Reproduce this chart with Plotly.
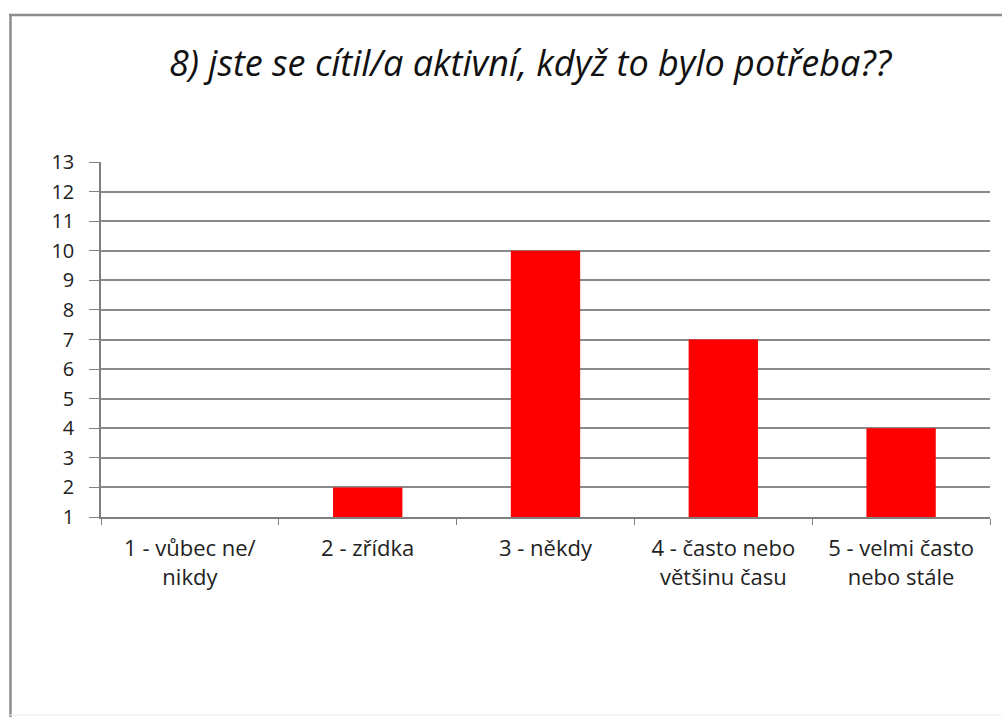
import plotly.graph_objects as go

# Survey answers for question 8
categories = [
    "1 - vůbec ne/<br>nikdy",
    "2 - zřídka",
    "3 - někdy",
    "4 - často nebo<br>většinu času",
    "5 - velmi často<br>nebo stále",
]
counts = [0, 2, 10, 7, 4]
y_ticks = list(range(1, 14))

title_text = "8) jste se cítil/a aktivní, když to bylo potřeba??"

W, H = 1002, 717
ml, mr, mt, mb = 101, 12, 162, 200
pw = W - ml - mr
ph = H - mt - mb


def px_to_paper_x(px):
    return (px - ml) / pw


def px_to_paper_y(py):
    return (H - mb - py) / ph


fig = go.Figure(
    go.Bar(
        x=categories,
        y=counts,
        marker=dict(color="#FF0000", line=dict(width=0)),
        width=0.39,
    )
)

fig.update_layout(
    width=W,
    height=H,
    margin=dict(l=ml, r=mr, t=mt, b=mb),
    paper_bgcolor="white",
    plot_bgcolor="white",
    showlegend=False,
    font=dict(family="Open Sans", size=20, color="#222222"),
    title=dict(
        text="<i>" + title_text + "</i>",
        x=530 / W,
        xref="container",
        xanchor="center",
        y=1 - 63 / H,
        yanchor="middle",
        font=dict(family="Open Sans", size=36, color="#111111"),
    ),
)

fig.update_xaxes(
    showgrid=False,
    showline=True,
    linecolor="#7f7f7f",
    linewidth=1.5,
    tickson="boundaries",
    ticks="outside",
    ticklen=6,
    tickcolor="#7f7f7f",
    ticklabelstandoff=11,
    tickfont=dict(size=22, color="#222222"),
)

fig.update_yaxes(
    range=[1, 13],
    tickvals=y_ticks,
    showgrid=True,
    gridcolor="#8a8a8a",
    gridwidth=1.5,
    showline=True,
    linecolor="#7f7f7f",
    linewidth=1.5,
    ticks="outside",
    ticklen=10,
    tickcolor="#7f7f7f",
    ticklabelstandoff=11,
    zeroline=False,
    tickfont=dict(size=20, color="#222222"),
)

# Chart frame: top and left edges
frame = dict(color="#8c8c8c", width=2.5)
fig.add_shape(
    type="line", xref="paper", yref="paper",
    x0=px_to_paper_x(9), x1=px_to_paper_x(1002),
    y0=px_to_paper_y(15), y1=px_to_paper_y(15),
    line=frame, layer="below",
)
fig.add_shape(
    type="line", xref="paper", yref="paper",
    x0=px_to_paper_x(10.5), x1=px_to_paper_x(10.5),
    y0=px_to_paper_y(14), y1=px_to_paper_y(717),
    line=frame, layer="below",
)
fig.add_shape(
    type="line", xref="paper", yref="paper",
    x0=px_to_paper_x(10), x1=px_to_paper_x(1002),
    y0=px_to_paper_y(715), y1=px_to_paper_y(715),
    line=dict(color="#ececec", width=1), layer="below",
)

fig.write_html("out.html")
